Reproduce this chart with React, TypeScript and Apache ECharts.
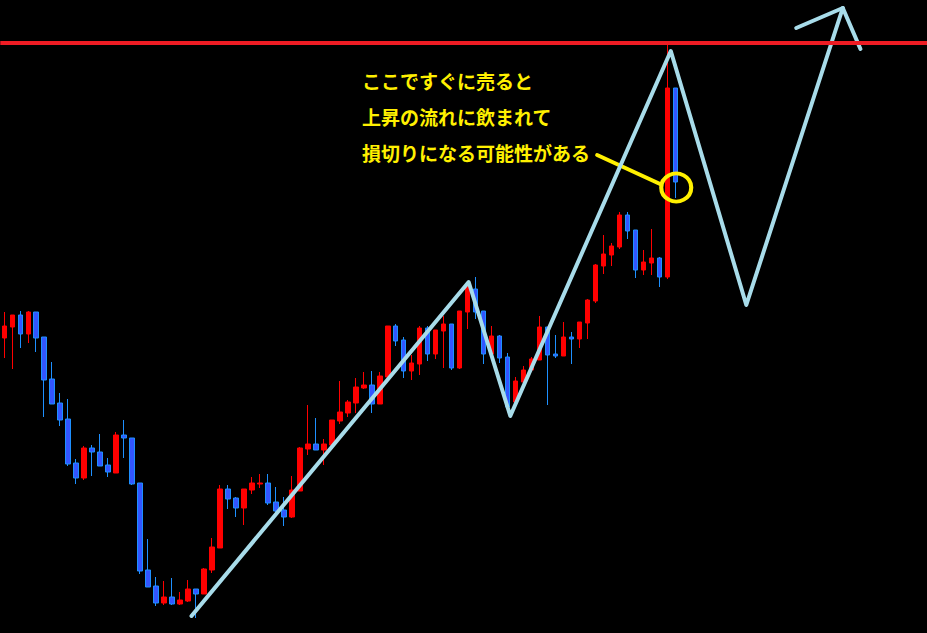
import React, { useEffect, useRef } from "react";
import * as echarts from "echarts";

// Price bars, oldest first (price in points)
const open = [
  295, 306, 318, 299, 321, 296, 254, 230, 214, 170, 155, 185, 181, 168, 160, 198, 195, 150, 63, 47,
  30, 36, 29, 32, 44, 39, 63, 85, 144, 135, 125, 143, 149, 150, 131, 123, 116, 142, 184, 189,
  183, 188, 212, 220, 230, 245, 248, 229, 256, 307, 293, 262, 269, 305, 279, 302, 309, 265, 321, 344,
  322, 279, 297, 276, 231, 251, 263, 273, 306, 279, 277, 296, 294, 310, 332, 367, 378, 386, 418, 403,
  363, 370, 375, 356, 545,
];
const close = [
  307, 318, 299, 321, 295, 253, 229, 213, 169, 155, 185, 181, 167, 161, 198, 195, 149, 62, 46, 30,
  36, 29, 33, 44, 39, 64, 86, 144, 134, 125, 144, 150, 150, 130, 122, 116, 143, 185, 189, 183,
  189, 213, 221, 231, 246, 248, 229, 257, 307, 292, 262, 270, 305, 279, 303, 309, 265, 322, 346, 321,
  279, 297, 275, 226, 252, 263, 274, 306, 278, 277, 296, 294, 311, 333, 368, 379, 387, 418, 402, 363,
  371, 375, 356, 545, 451,
];
const low = [
  275, 264, 285, 290, 281, 216, 229, 207, 167, 149, 153, 157, 167, 156, 160, 175, 148, 59, 46, 27,
  28, 28, 28, 31, 15, 39, 60, 85, 124, 116, 108, 139, 145, 128, 120, 107, 115, 142, 178, 183,
  168, 188, 209, 216, 220, 244, 220, 229, 255, 287, 255, 253, 258, 272, 274, 265, 263, 264, 304, 314,
  269, 279, 270, 222, 228, 250, 263, 273, 228, 275, 277, 269, 285, 294, 330, 359, 367, 384, 394, 355,
  358, 358, 346, 354, 435,
];
const high = [
  321, 318, 322, 322, 321, 296, 271, 240, 234, 174, 187, 188, 199, 175, 201, 213, 195, 150, 94, 56,
  52, 55, 41, 53, 44, 65, 95, 148, 148, 136, 144, 156, 159, 159, 146, 136, 157, 186, 228, 215,
  194, 213, 252, 233, 255, 261, 262, 261, 307, 309, 296, 278, 307, 307, 303, 317, 309, 322, 349, 356,
  322, 307, 298, 280, 256, 267, 276, 317, 306, 298, 311, 301, 311, 334, 369, 398, 390, 421, 421, 403,
  383, 404, 376, 590, 545,
];

// Bar slots on the time axis (the right-hand part is left empty for the projection)
const SLOTS = 116;
const categories = Array.from({ length: SLOTS }, (_, i) => `${i + 1}`);

// Resistance level
const resistance = 590;

// Projected swing path, [bar position, price]
const zigzag = [
  [23.43, 17],
  [58.13, 351],
  [63.34, 217],
  [83.43, 582],
  [92.88, 328],
  [104.96, 625],
];
const arrowHead = [
  [99.13, 605],
  [104.96, 625],
  [107.17, 584],
];

// Callout: leader line and ring around the rejected bar
const pointer = [
  [74.21, 478],
  [82.09, 449],
];
const marker = [[84.11, 445.5]];
const note = ["ここですぐに売ると", "上昇の流れに飲まれて", "損切りになる可能性がある"];

const YELLOW = "#FFF000";
const PATH = "#A8DCEA";

export default function App() {
  const ref = useRef<HTMLDivElement>(null);

  useEffect(() => {
    document.body.style.margin = "0";
    const chart = echarts.init(ref.current!, null, { renderer: "svg" });
    const ohlc = open.map((o, i) => [o, close[i], low[i], high[i]]);

    chart.setOption({
      animation: false,
      backgroundColor: "#000000",
      grid: { left: 0.3, top: 0, width: 928, height: 633 },
      xAxis: [
        { type: "category", data: categories, boundaryGap: true, show: false },
        { type: "value", min: -0.5, max: SLOTS - 0.5, show: false },
      ],
      yAxis: { type: "value", min: 0, max: 633, show: false },
      series: [
        {
          type: "candlestick",
          data: ohlc,
          barWidth: 5,
          z: 2,
          itemStyle: {
            color: "#FF0000",
            color0: "#3355FF",
            borderColor: "#FF0000",
            borderColor0: "#1E90FF",
            borderWidth: 1,
          },
          markLine: {
            silent: true,
            symbol: ["none", "none"],
            label: { show: false },
            lineStyle: { color: "#EE1C24", width: 4, type: "solid", opacity: 1 },
            data: [{ yAxis: resistance }],
          },
        },
        {
          type: "line",
          xAxisIndex: 1,
          data: pointer,
          showSymbol: false,
          silent: true,
          z: 3,
          lineStyle: { color: YELLOW, width: 4, cap: "round", opacity: 1 },
        },
        {
          type: "scatter",
          xAxisIndex: 1,
          data: marker,
          symbol: "circle",
          symbolSize: [30, 28],
          silent: true,
          z: 3,
          itemStyle: {
            color: "rgba(0,0,0,0)",
            borderColor: YELLOW,
            borderWidth: 4,
            opacity: 1,
          },
        },
        {
          type: "line",
          xAxisIndex: 1,
          data: zigzag,
          showSymbol: false,
          silent: true,
          z: 4,
          lineStyle: { color: PATH, width: 4, cap: "round", join: "round" },
        },
        {
          type: "line",
          xAxisIndex: 1,
          data: arrowHead,
          showSymbol: false,
          silent: true,
          z: 4,
          lineStyle: { color: PATH, width: 4, cap: "round", join: "round" },
        },
      ],
      graphic: note.map((t, i) => ({
        type: "text",
        left: 362,
        top: 71 + i * 36,
        z: 10,
        style: {
          text: t,
          fill: YELLOW,
          font: 'bold 19px "Noto Sans CJK JP"',
        },
      })),
    });

    return () => chart.dispose();
  }, []);

  return (
    <div
      ref={ref}
      style={{ position: "fixed", left: 0, top: 0, width: 927, height: 633, background: "#000" }}
    />
  );
}
